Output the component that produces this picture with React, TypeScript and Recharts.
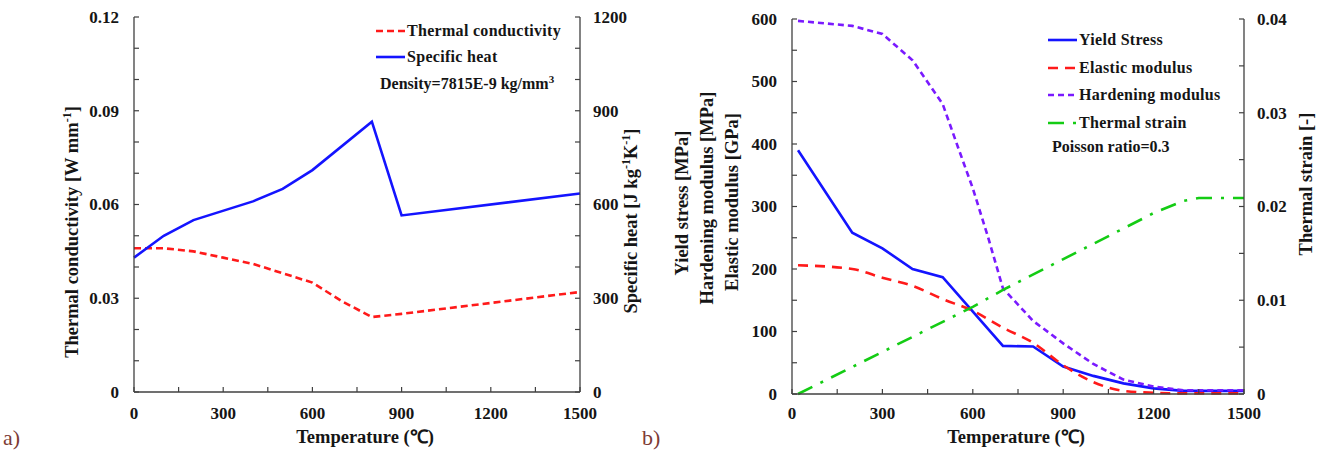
import React from 'react';
import { LineChart, Line, XAxis, YAxis, Legend } from 'recharts';

const FONT = '"Liberation Serif", "Times New Roman", serif';
const AXIS = '#404040';
const TEXT = '#151515';

// ---------- Chart a) ----------
const condTemps = [0, 100, 200, 300, 400, 500, 600, 700, 800, 900, 1500];
const condValues = [0.046, 0.046, 0.045, 0.043, 0.041, 0.038, 0.035, 0.029, 0.024, 0.025, 0.032];
const heatTemps = [0, 100, 200, 400, 500, 600, 800, 900, 1500];
const heatValues = [430, 500, 550, 610, 650, 710, 865, 565, 635];

const condTicks = [0, 0.01, 0.02, 0.03, 0.04, 0.05, 0.06, 0.07, 0.08, 0.09, 0.1, 0.11, 0.12];
const condLabelValues = [0, 0.03, 0.06, 0.09, 0.12];
const condLabels = ['0', '0.03', '0.06', '0.09', '0.12'];
const heatTicks = [0, 100, 200, 300, 400, 500, 600, 700, 800, 900, 1000, 1100, 1200];
const heatLabelValues = [0, 300, 600, 900, 1200];
const heatLabels = ['0', '300', '600', '900', '1200'];

// ---------- Chart b) ----------
const yieldTemps = [20, 200, 300, 400, 500, 700, 800, 900, 1000, 1100, 1200, 1300, 1500];
const yieldValues = [390, 258, 233, 200, 187, 77, 76, 44, 29, 17, 9, 5, 5];
const elasticTemps = [20, 200, 300, 400, 500, 600, 700, 800, 900, 1000, 1100, 1200, 1300, 1500];
const elasticValues = [206, 200, 186, 173, 152, 133, 106, 82, 46, 19, 5, 2, 1, 1];
const hardTemps = [20, 200, 300, 400, 500, 550, 600, 650, 700, 800, 900, 1000, 1100, 1200, 1300, 1500];
const hardValues = [597, 589, 576, 534, 464, 396, 329, 252, 169, 117, 81, 48, 23, 12, 6, 6];
const strainTemps = [20, 600, 700, 1200, 1300, 1350, 1500];
const strainValues = [0, 0.0093, 0.0111, 0.0193, 0.0206, 0.0209, 0.0209];

const stressTicks = [0, 50, 100, 150, 200, 250, 300, 350, 400, 450, 500, 550, 600];
const stressLabelValues = [0, 100, 200, 300, 400, 500, 600];
const stressLabels = ['0', '100', '200', '300', '400', '500', '600'];
const strainTicks = [0, 0.005, 0.01, 0.015, 0.02, 0.025, 0.03, 0.035, 0.04];
const strainLabelValues = [0, 0.01, 0.02, 0.03, 0.04];
const strainLabels = ['0', '0.01', '0.02', '0.03', '0.04'];

// ---------- shared x axis ----------
const tempTicks = [0, 150, 300, 450, 600, 750, 900, 1050, 1200, 1350, 1500];
const tempLabelValues = [0, 300, 600, 900, 1200, 1500];
const tempLabels = ['0', '300', '600', '900', '1200', '1500'];

const toRows = (ts: number[], vs: number[]) => ts.map((t, i) => ({ t, v: vs[i] }));

const BLUE = '#1414ff';
const RED = '#ff1a1a';
const PURPLE = '#7a1aff';
const GREEN = '#14cc14';

type Side = 'left' | 'right' | 'bottom';
function makeTick(side: Side, labelValues: number[], labelTexts: string[], gap: number) {
  return function TickMark(props: any) {
    const { x, y, payload } = props;
    const v = Number(payload?.value);
    const i = labelValues.findIndex((l) => Math.abs(l - v) < 1e-9);
    const label = i >= 0 ? labelTexts[i] : null;
    const common = { fill: TEXT, fontFamily: FONT, fontWeight: 700, fontSize: 17 } as any;
    if (side === 'left') {
      return (
        <g>
          <line x1={x} y1={y} x2={x + 5} y2={y} stroke={AXIS} strokeWidth={1.2} />
          {label && (
            <text x={x - gap} y={y} dy="0.35em" textAnchor="end" {...common}>{label}</text>
          )}
        </g>
      );
    }
    if (side === 'right') {
      return (
        <g>
          <line x1={x} y1={y} x2={x - 5} y2={y} stroke={AXIS} strokeWidth={1.2} />
          {label && (
            <text x={x + gap} y={y} dy="0.35em" textAnchor="start" {...common}>{label}</text>
          )}
        </g>
      );
    }
    return (
      <g>
        <line x1={x} y1={y} x2={x} y2={y - 5} stroke={AXIS} strokeWidth={1.2} />
        {label && (
          <text x={x} y={y + gap} dy="0.35em" textAnchor="middle" {...common}>{label}</text>
        )}
      </g>
    );
  };
}

const labelStyle = { fill: TEXT, fontFamily: FONT, fontWeight: 700, fontSize: 18.5 } as any;

function VText({ x, y, children }: { x: number; y: number; children: React.ReactNode }) {
  return (
    <text x={x} y={y} dy="0.35em" textAnchor="middle" transform={`rotate(-90 ${x} ${y})`} {...labelStyle}>
      {children}
    </text>
  );
}

type Item = { name: string; color: string; dash?: string };
function LegendBlock({ items, note, rowH, noteIndent, noteShift }: { items: Item[]; note: React.ReactNode; rowH: number; noteIndent: number; noteShift: number }) {
  return (
    <div style={{ fontFamily: FONT, fontWeight: 700, fontSize: 16, color: TEXT, whiteSpace: 'nowrap' }}>
      {items.map((it) => (
        <div key={it.name} style={{ height: rowH, display: 'flex', alignItems: 'center' }}>
          <svg width={29} height={6} style={{ display: 'block' }}>
            <line x1={0} y1={3} x2={29} y2={3} stroke={it.color} strokeWidth={2.6} strokeDasharray={it.dash} />
          </svg>
          <span style={{ marginLeft: 2, letterSpacing: 0.3 }}>{it.name}</span>
        </div>
      ))}
      <div style={{ height: rowH, display: 'flex', alignItems: 'center', marginLeft: noteIndent, marginTop: noteShift }}>{note}</div>
    </div>
  );
}

const legendA: Item[] = [
  { name: 'Thermal conductivity', color: RED, dash: '7 4' },
  { name: 'Specific heat', color: BLUE },
];
const legendB: Item[] = [
  { name: 'Yield Stress', color: BLUE },
  { name: 'Elastic modulus', color: RED, dash: '10 7' },
  { name: 'Hardening modulus', color: PURPLE, dash: '6 4' },
  { name: 'Thermal strain', color: GREEN, dash: '16 9 3 9' },
];

function ChartA() {
  return (
    <LineChart width={660} height={451} margin={{ top: 17, right: 0, bottom: 0, left: 0 }}>
      <XAxis
        xAxisId="b"
        dataKey="t"
        type="number"
        domain={[0, 1500]}
        ticks={tempTicks}
        interval={0}
        height={59}
        tickSize={0}
        tickMargin={0}
        tickLine={false}
        axisLine={{ stroke: AXIS, strokeWidth: 1.3 }}
        tick={makeTick('bottom', tempLabelValues, tempLabels, 21)}
        label={(p: any) => {
          const vb = p.viewBox;
          return (
            <text x={vb.x + vb.width / 2 + 8} y={vb.y + 45} dy="0.35em" textAnchor="middle" {...labelStyle}>
              Temperature (℃)
            </text>
          );
        }}
      />
      <XAxis xAxisId="top" dataKey="t" type="number" domain={[0, 1500]} orientation="top" height={0} tick={false} tickLine={false} axisLine={{ stroke: AXIS, strokeWidth: 1.3 }} />
      <YAxis
        yAxisId="l"
        type="number"
        domain={[0, 0.12]}
        ticks={condTicks}
        interval={0}
        width={134}
        tickSize={0}
        tickMargin={0}
        tickLine={false}
        axisLine={{ stroke: AXIS, strokeWidth: 1.3 }}
        tick={makeTick('left', condLabelValues, condLabels, 15)}
        label={(p: any) => {
          const vb = p.viewBox;
          return (
            <VText x={vb.x + 72} y={232}>
              Thermal conductivity [W mm<tspan dy={-7} fontSize={12}>-1</tspan><tspan dy={7}>]</tspan>
            </VText>
          );
        }}
      />
      <YAxis
        yAxisId="r"
        orientation="right"
        type="number"
        domain={[0, 1200]}
        ticks={heatTicks}
        interval={0}
        width={80}
        tickSize={0}
        tickMargin={0}
        tickLine={false}
        axisLine={{ stroke: AXIS, strokeWidth: 1.3 }}
        tick={makeTick('right', heatLabelValues, heatLabels, 13)}
        label={(p: any) => {
          const vb = p.viewBox;
          return (
            <VText x={vb.x + 51} y={221}>
              Specific heat [J kg<tspan dy={-7} fontSize={12}>-1</tspan><tspan dy={7}>K</tspan><tspan dy={-7} fontSize={12}>-1</tspan><tspan dy={7}>]</tspan>
            </VText>
          );
        }}
      />
      <Legend
        layout="vertical"
        align="center"
        verticalAlign="middle"
        wrapperStyle={{ top: 18, left: 376, width: 'auto', height: 'auto' }}
        content={() => (
          <LegendBlock
            items={legendA}
            rowH={26}
            noteIndent={4}
            noteShift={0}
            note={<span>Density=7815E-9 kg/mm<sup style={{ fontSize: 11 }}>3</sup></span>}
          />
        )}
      />
      <Line xAxisId="b" yAxisId="l" data={toRows(condTemps, condValues)} dataKey="v" name="Thermal conductivity" type="linear" stroke={RED} strokeWidth={2.6} strokeDasharray="7 4" dot={false} isAnimationActive={false} />
      <Line xAxisId="b" yAxisId="r" data={toRows(heatTemps, heatValues)} dataKey="v" name="Specific heat" type="linear" stroke={BLUE} strokeWidth={2.6} dot={false} isAnimationActive={false} />
    </LineChart>
  );
}

function ChartB() {
  return (
    <LineChart width={669} height={451} margin={{ top: 19, right: 0, bottom: 0, left: 0 }}>
      <XAxis
        xAxisId="b"
        dataKey="t"
        type="number"
        domain={[0, 1500]}
        ticks={tempTicks}
        interval={0}
        height={57}
        tickSize={0}
        tickMargin={0}
        tickLine={false}
        axisLine={{ stroke: AXIS, strokeWidth: 1.3 }}
        tick={makeTick('bottom', tempLabelValues, tempLabels, 19)}
        label={(p: any) => {
          const vb = p.viewBox;
          return (
            <text x={vb.x + vb.width / 2 - 2} y={vb.y + 43} dy="0.35em" textAnchor="middle" {...labelStyle}>
              Temperature (℃)
            </text>
          );
        }}
      />
      <XAxis xAxisId="top" dataKey="t" type="number" domain={[0, 1500]} orientation="top" height={0} tick={false} tickLine={false} axisLine={{ stroke: AXIS, strokeWidth: 1.3 }} />
      <YAxis
        yAxisId="l"
        type="number"
        domain={[0, 600]}
        ticks={stressTicks}
        interval={0}
        width={132}
        tickSize={0}
        tickMargin={0}
        tickLine={false}
        axisLine={{ stroke: AXIS, strokeWidth: 1.3 }}
        tick={makeTick('left', stressLabelValues, stressLabels, 15)}
        label={(p: any) => {
          const vb = p.viewBox;
          return (
            <g>
              <VText x={vb.x + 22} y={203}>Yield stress [MPa]</VText>
              <VText x={vb.x + 47} y={198}>Hardening modulus [MPa]</VText>
              <VText x={vb.x + 72} y={202}>Elastic modulus [GPa]</VText>
            </g>
          );
        }}
      />
      <YAxis
        yAxisId="r"
        orientation="right"
        type="number"
        domain={[0, 0.04]}
        ticks={strainTicks}
        interval={0}
        width={85}
        tickSize={0}
        tickMargin={0}
        tickLine={false}
        axisLine={{ stroke: AXIS, strokeWidth: 1.3 }}
        tick={makeTick('right', strainLabelValues, strainLabels, 13)}
        label={(p: any) => {
          const vb = p.viewBox;
          return <VText x={vb.x + 62} y={184}>Thermal strain [-]</VText>;
        }}
      />
      <Legend
        layout="vertical"
        align="center"
        verticalAlign="middle"
        wrapperStyle={{ top: 26, left: 388, width: 'auto', height: 'auto' }}
        content={() => (
          <LegendBlock items={legendB} rowH={27.7} noteIndent={4} noteShift={-4} note={<span>Poisson ratio=0.3</span>} />
        )}
      />
      <Line xAxisId="b" yAxisId="l" data={toRows(yieldTemps, yieldValues)} dataKey="v" name="Yield Stress" type="linear" stroke={BLUE} strokeWidth={2.6} dot={false} isAnimationActive={false} />
      <Line xAxisId="b" yAxisId="l" data={toRows(elasticTemps, elasticValues)} dataKey="v" name="Elastic modulus" type="monotone" stroke={RED} strokeWidth={2.6} strokeDasharray="10 7" dot={false} isAnimationActive={false} />
      <Line xAxisId="b" yAxisId="l" data={toRows(hardTemps, hardValues)} dataKey="v" name="Hardening modulus" type="linear" stroke={PURPLE} strokeWidth={2.6} strokeDasharray="6 4" dot={false} isAnimationActive={false} />
      <Line xAxisId="b" yAxisId="r" data={toRows(strainTemps, strainValues)} dataKey="v" name="Thermal strain" type="linear" stroke={GREEN} strokeWidth={2.6} strokeDasharray="16 9 3 9" dot={false} isAnimationActive={false} />
    </LineChart>
  );
}

export default function App() {
  const panelLabel = { position: 'absolute', top: 425, fontFamily: FONT, fontSize: 22, color: '#7d3b35' } as React.CSSProperties;
  return (
    <div style={{ position: 'absolute', left: 0, top: 0, width: 1329, height: 451, background: '#fff', overflow: 'hidden' }}>
      <div style={{ position: 'absolute', left: 0, top: 0 }}>
        <ChartA />
      </div>
      <div style={{ position: 'absolute', left: 660, top: 0 }}>
        <ChartB />
      </div>
      <div style={{ ...panelLabel, left: 3 }}>a)</div>
      <div style={{ ...panelLabel, left: 642 }}>b)</div>
    </div>
  );
}
